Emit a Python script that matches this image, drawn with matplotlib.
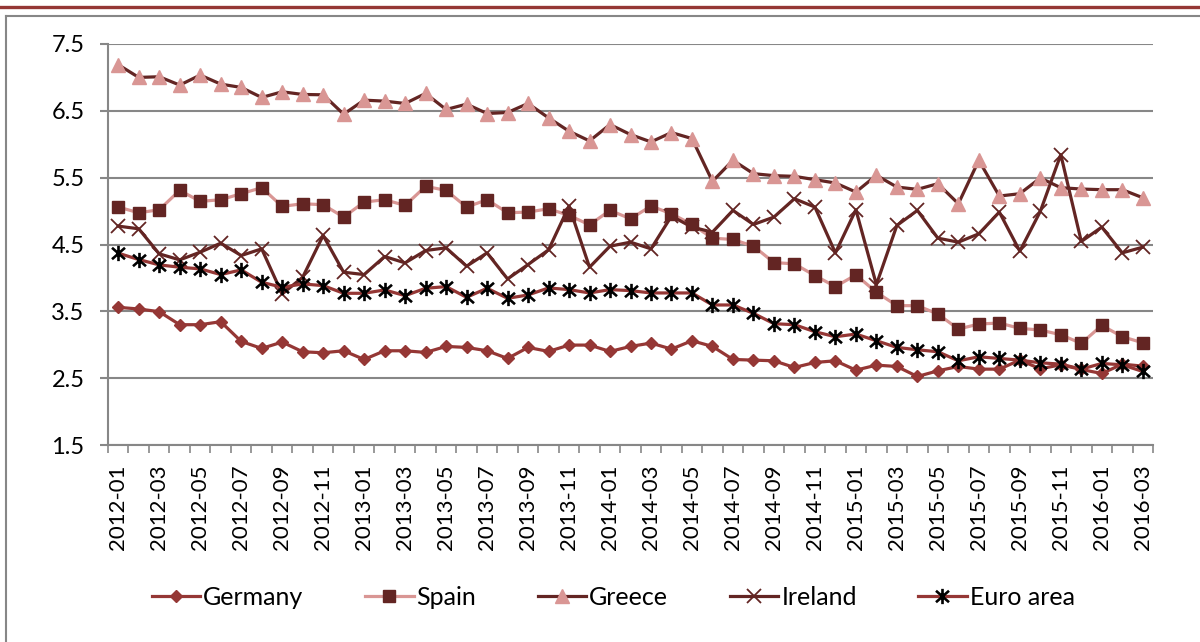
import matplotlib
matplotlib.use("Agg")
import matplotlib.pyplot as plt
from matplotlib.lines import Line2D
from matplotlib.path import Path

plt.rcParams['font.family'] = ['Lato', 'DejaVu Sans']

months = [f"{y}-{m:02d}" for y in range(2012, 2017) for m in range(1, 13)][:51]

germany = [3.56, 3.535, 3.495, 3.30, 3.30, 3.345, 3.05, 2.945, 3.04, 2.895, 2.88, 2.91, 2.78, 2.91,
           2.91, 2.885, 2.975, 2.96, 2.91, 2.795, 2.96, 2.90, 2.995, 2.995, 2.90, 2.975, 3.025, 2.935,
           3.06, 2.975, 2.78, 2.77, 2.76, 2.66, 2.735, 2.76, 2.62, 2.695, 2.675, 2.525, 2.61, 2.675,
           2.635, 2.635, 2.77, 2.64, 2.70, 2.63, 2.57, 2.71, 2.68]
spain = [5.06, 4.975, 5.02, 5.31, 5.145, 5.17, 5.26, 5.35, 5.07, 5.11, 5.095, 4.91, 5.135, 5.17,
         5.085, 5.37, 5.31, 5.06, 5.17, 4.975, 4.985, 5.035, 4.935, 4.795, 5.01, 4.885, 5.075, 4.96,
         4.80, 4.595, 4.575, 4.475, 4.23, 4.21, 4.035, 3.87, 4.045, 3.785, 3.585, 3.585, 3.46, 3.235,
         3.31, 3.325, 3.245, 3.22, 3.15, 3.02, 3.29, 3.12, 3.03]
greece = [7.19, 7.0, 7.01, 6.885, 7.035, 6.90, 6.85, 6.70, 6.785, 6.745, 6.74, 6.45, 6.66, 6.645,
          6.61, 6.76, 6.52, 6.60, 6.46, 6.475, 6.61, 6.395, 6.195, 6.05, 6.295, 6.145, 6.035, 6.175,
          6.085, 5.445, 5.76, 5.56, 5.53, 5.52, 5.47, 5.42, 5.285, 5.535, 5.36, 5.325, 5.41, 5.11,
          5.76, 5.225, 5.26, 5.495, 5.35, 5.33, 5.32, 5.32, 5.20]
ireland = [4.775, 4.735, 4.36, 4.27, 4.385, 4.52, 4.335, 4.435, 3.76, 4.01, 4.635, 4.085, 4.05, 4.32,
           4.225, 4.41, 4.45, 4.175, 4.375, 3.985, 4.20, 4.42, 5.075, 4.16, 4.475, 4.535, 4.435, 4.925,
           4.76, 4.685, 5.01, 4.80, 4.91, 5.185, 5.06, 4.375, 5.02, 3.90, 4.785, 5.01, 4.595, 4.535,
           4.66, 4.985, 4.40, 4.995, 5.845, 4.545, 4.76, 4.375, 4.46]
euro = [4.37, 4.275, 4.195, 4.16, 4.135, 4.05, 4.12, 3.935, 3.86, 3.91, 3.885, 3.77, 3.77, 3.82,
        3.735, 3.845, 3.87, 3.71, 3.845, 3.695, 3.745, 3.85, 3.825, 3.775, 3.825, 3.81, 3.775, 3.775,
        3.775, 3.595, 3.595, 3.47, 3.315, 3.30, 3.195, 3.12, 3.16, 3.06, 2.96, 2.925, 2.895, 2.76,
        2.82, 2.795, 2.77, 2.73, 2.71, 2.635, 2.72, 2.70, 2.60]

RED = '#953735'
DARK = '#632523'
PINK = '#D99694'
GRID = '#878787'

# excel style star: vertical bar plus an x
star = Path([(0, -1), (0, 1), (-0.85, -0.75), (0.85, 0.75), (-0.85, 0.75), (0.85, -0.75)],
            [Path.MOVETO, Path.LINETO, Path.MOVETO, Path.LINETO, Path.MOVETO, Path.LINETO])

fig = plt.figure(figsize=(12, 6.42), dpi=100)
ax = fig.add_axes([108/1200, 1-445/642, (1153-108)/1200, (445-44)/642])

x = list(range(len(months)))
ax.plot(x, germany, color=RED, lw=2.3, marker='D', ms=6, mfc=RED, mec=RED, label='Germany', zorder=3)
ax.plot(x, spain, color=PINK, lw=2.3, marker='s', ms=8.5, mfc=DARK, mec=DARK, label='Spain', zorder=4)
ax.plot(x, greece, color=DARK, lw=2.3, marker='^', ms=10, mfc=PINK, mec=PINK, label='Greece', zorder=5)
ax.plot(x, ireland, color=DARK, lw=2.3, marker='x', ms=9.5, mew=1.3, mec=DARK, label='Ireland', zorder=6)
ax.plot(x, euro, color=RED, lw=2.3, marker=star, ms=11, mew=1.9, mec='black', mfc='none',
        label='Euro area', zorder=7)

ax.set_xlim(-0.5, len(months) - 0.5)
ax.set_ylim(1.5, 7.5)
ax.set_yticks([1.5, 2.5, 3.5, 4.5, 5.5, 6.5, 7.5])
ax.set_yticklabels(['1.5', '2.5', '3.5', '4.5', '5.5', '6.5', '7.5'])
ax.yaxis.grid(True, color=GRID, lw=1.5)
ax.set_axisbelow(True)

ax.set_xticks(x[::2])
ax.set_xticklabels(months[::2], rotation=90)
ax.set_xticks([i - 0.5 for i in range(len(months) + 1)], minor=True)
ax.tick_params(axis='x', which='major', length=0, pad=14, labelsize=16)
ax.tick_params(axis='x', which='minor', length=6, width=1.2, color=GRID, direction='out')
ax.tick_params(axis='y', length=6, width=1.5, color=GRID, pad=11, labelsize=17)

for s in ['top', 'right']:
    ax.spines[s].set_visible(False)
for s in ['left', 'bottom']:
    ax.spines[s].set_color(GRID)
    ax.spines[s].set_linewidth(1.5)

fig.legend(loc='center', bbox_to_anchor=(0.511, 0.07), ncol=5, frameon=False, fontsize=18,
           handlelength=1.95, handletextpad=0.12, columnspacing=2.45)

# outer frame lines
fig.add_artist(Line2D([0, 1], [1-6.5/642]*2, color=RED, lw=2.4, transform=fig.transFigure))
fig.add_artist(Line2D([6/1200, 1], [1-16/642]*2, color=GRID, lw=1.5, transform=fig.transFigure))
fig.add_artist(Line2D([6/1200]*2, [0, 1-16/642], color=GRID, lw=1.5, transform=fig.transFigure))

fig.savefig('out.png', dpi=100)
